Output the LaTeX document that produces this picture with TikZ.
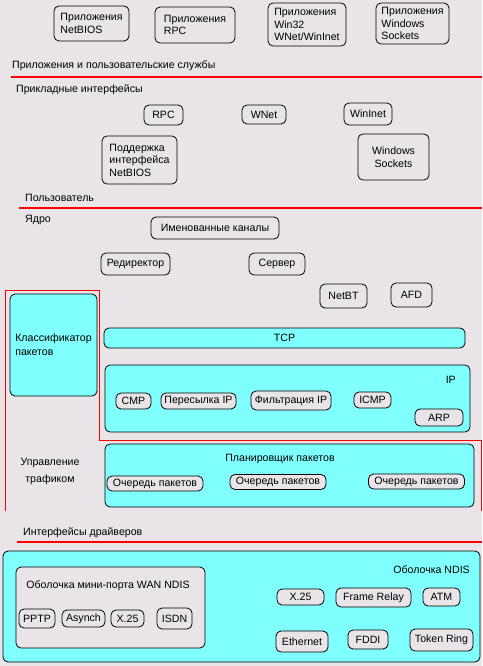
\documentclass[tikz,border=0pt]{standalone}
\usepackage{fontspec}
\setmainfont{Liberation Sans}
\usepackage{tikz}
\usetikzlibrary{positioning}
\usepackage{xcolor}
\definecolor{winGray}{RGB}{232,228,232}
\definecolor{winCyan}{RGB}{128,255,255}
\definecolor{winRed}{RGB}{255,0,0}
\colorlet{layer line}{winRed}
\colorlet{layer area}{winCyan}
\tikzset{
    module/.style={draw=black, line width=0.8pt, rounded corners=5pt, inner sep=1pt, align=left},
    submodule/.style={module, fill=winGray},
    layer/.style={module, fill=layer area},
    caption/.style={inner sep=0pt, anchor=west},
    boundary/.style={draw=layer line, line width=1.6pt},
    region/.style={draw=layer line, line width=0.8pt}
}

\begin{document}
\begin{tikzpicture}[x=1pt, y=-1pt, font=\fontsize{10.6}{12.5}\selectfont]
        % Background and page size
        \fill[winGray] (0,0) rectangle (482,666);
        \useasboundingbox (0,0) rectangle (482,666);

        % Applications
        \node[module, minimum width=75pt, minimum height=35pt] (appNetbios) at (91.5,23.5) {Приложения\\NetBIOS};
        \node[module, minimum width=80pt, minimum height=36pt] (appRpc) at (195,25) {Приложения\\RPC};
        \node[module, minimum width=78pt, minimum height=43pt] (appWin) at (307,24.5) {Приложения\\Win32\\WNet/WinInet};
        \node[module, minimum width=73pt, minimum height=41pt] (appSockets) at (412.5,23.5) {Приложения\\Windows\\Sockets};

        \node[caption] (capApps) at (12,66) {Приложения и пользовательские службы};
        \draw[boundary] (11,77) -- (482,77);
        \node[caption] (capApi) at (16,90) {Прикладные интерфейсы};

        % Application interfaces
        \node[module, minimum width=39pt, minimum height=20pt] (apiRpc) at (163.5,115) {RPC};
        \node[module, minimum width=44pt, minimum height=19pt] (apiWnet) at (264,114.5) {WNet};
        \node[module, minimum width=48pt, minimum height=22pt] (apiWininet) at (368,114) {WinInet};
        \node[module, minimum width=75pt, minimum height=48pt] (apiNetbios) at (139.5,160) {Поддержка\\интерфейса\\NetBIOS};
        \node[module, align=center, minimum width=71pt, minimum height=46pt] (apiSockets) at (393.5,157) {Windows\\Sockets};

        \node[caption] (capUser) at (25,198) {Пользователь};
        \draw[boundary] (19,208) -- (482,208);
        \node[caption] (capKernel) at (25,220) {Ядро};

        % Kernel services
        \node[module, minimum width=128pt, minimum height=22pt] (pipes) at (215,228) {Именованные каналы};
        \node[module, minimum width=69pt, minimum height=22pt] (redirector) at (135.5,264) {Редиректор};
        \node[module, minimum width=56pt, minimum height=22pt] (server) at (277,264) {Сервер};
        \node[module, minimum width=47pt, minimum height=24pt] (netbt) at (343.5,296) {NetBT};
        \node[module, minimum width=41pt, minimum height=24pt] (afd) at (411.5,295) {AFD};

        % Traffic control region
        \draw[region] (5,511) -- (5,290) -- (99,290) -- (99,440) -- (481,440) -- (481,511);
        \node[layer, minimum width=87pt, minimum height=102pt] (classifier) at (53.5,345) {Классификатор\\[1.5pt]пакетов};

        % TCP/IP
        \node[layer, minimum width=361pt, minimum height=20pt] (tcp) at (284.5,338) {TCP};
        \node[layer, minimum width=365pt, minimum height=67pt] (ip) at (287.5,398.5) {};
        \node[caption, anchor=east] (ipLabel) at (456,380) {IP};
        \node[submodule, minimum width=35pt, minimum height=16pt] (igmp) at (133.5,401) {CMP};
        \node[submodule, minimum width=75pt, minimum height=16pt] (forward) at (198.5,401) {Пересылка IP};
        \node[submodule, minimum width=80pt, minimum height=19pt] (filter) at (291,400.5) {Фильтрация IP};
        \node[submodule, minimum width=37pt, minimum height=16pt] (icmp) at (372.5,400) {ICMP};
        \node[submodule, minimum width=48pt, minimum height=17pt] (arp) at (439,417.5) {ARP};

        % Packet scheduler
        \node[caption, anchor=center, align=center] (capTraffic) at (50,471.5) {Управление\\[4.5pt]трафиком};
        \node[layer, minimum width=369pt, minimum height=63pt] (scheduler) at (289.5,475.5) {};
        \node[caption, anchor=center] (schedLabel) at (280,459) {Планировщик пакетов};
        \foreach \name/\pos in {queueA/{155,483.5}, queueB/{278,482}, queueC/{416.5,481.5}}
            \node[submodule, minimum width=96pt, minimum height=15pt] (\name) at (\pos) {Очередь пакетов};

        \node[caption] (capDrivers) at (23,533) {Интерфейсы драйверов};
        \draw[boundary] (17,542) -- (482,542);

        % NDIS wrapper
        \node[layer, minimum width=477pt, minimum height=111pt] (ndis) at (241.5,606.5) {};
        \node[caption, anchor=east] (ndisLabel) at (470,570) {Оболочка NDIS};
        \node[submodule, minimum width=189pt, minimum height=81pt] (wan) at (110.5,607.5) {};
        \node[caption, anchor=center] (wanLabel) at (108,586) {Оболочка мини-порта WAN NDIS};
        \node[submodule, minimum width=36pt, minimum height=19pt] (pptp) at (37,618.5) {PPTP};
        \node[submodule, minimum width=43pt, minimum height=17pt] (asynch) at (83.5,618.5) {Asynch};
        \node[submodule, minimum width=33pt, minimum height=17pt] (wanX) at (127.5,618.5) {X.25};
        \node[submodule, minimum width=35pt, minimum height=21pt] (isdn) at (174.5,618.5) {ISDN};

        \node[submodule, minimum width=47pt, minimum height=16pt] (lanX) at (300.5,597) {X.25};
        \node[submodule, minimum width=75pt, minimum height=19pt] (frame) at (373.5,597.5) {Frame Relay};
        \node[submodule, minimum width=37pt, minimum height=18pt] (atm) at (441.5,597) {ATM};
        \node[submodule, minimum width=52pt, minimum height=21pt] (ethernet) at (302,641.5) {Ethernet};
        \node[submodule, minimum width=40pt, minimum height=19pt] (fddi) at (368,639.5) {FDDI};
        \node[submodule, minimum width=63pt, minimum height=22pt] (token) at (441.5,640) {Token Ring};
    \end{tikzpicture}
\end{document}
